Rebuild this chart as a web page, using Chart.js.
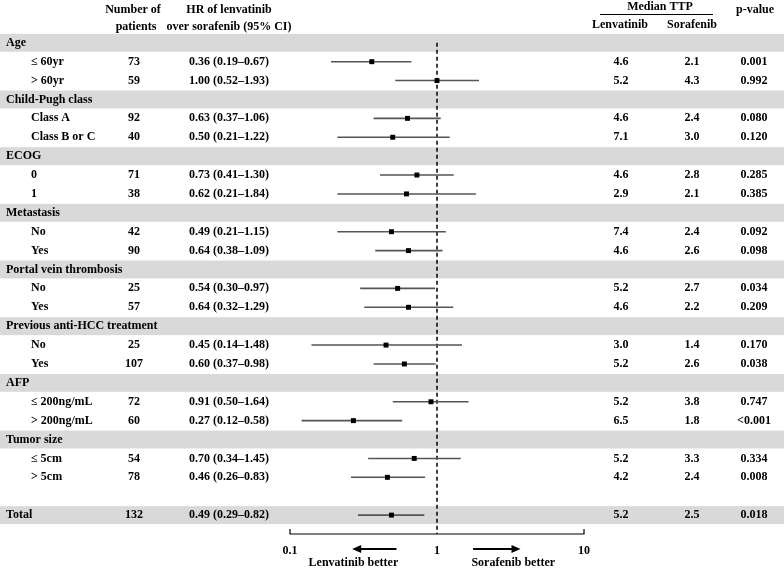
<!DOCTYPE html>
<html>
<head>
<meta charset="utf-8">
<script src="https://cdn.jsdelivr.net/npm/chart.js@4"></script>
<style>
  body { margin: 0; background: #fff; }
  #wrap { position: relative; width: 784px; height: 569px; }
</style>
</head>
<body>
<div id="wrap"><canvas id="forest"></canvas></div>
<script>
// filas de la tabla (esGrupo = fila de grupo con banda gris)
var etiquetas = ['Age', '\u2264 60yr', '> 60yr', 'Child-Pugh class', 'Class A', 'Class B or C',
  'ECOG', '0', '1', 'Metastasis', 'No', 'Yes', 'Portal vein thrombosis', 'No', 'Yes',
  'Previous anti-HCC treatment', 'No', 'Yes', 'AFP', '\u2264 200ng/mL', '> 200ng/mL',
  'Tumor size', '\u2264 5cm', '> 5cm', '', 'Total'];
var esGrupo = [1, 0, 0, 1, 0, 0, 1, 0, 0, 1, 0, 0, 1, 0, 0, 1, 0, 0, 1, 0, 0, 1, 0, 0, 0, 1];
var pacientes = [null, 73, 59, null, 92, 40, null, 71, 38, null, 42, 90, null, 25, 57, null, 25, 107, null, 72, 60, null, 54, 78, null, 132];
var hr = [null, 0.36, 1.00, null, 0.63, 0.50, null, 0.73, 0.62, null, 0.49, 0.64, null, 0.54, 0.64, null, 0.45, 0.60, null, 0.91, 0.27, null, 0.70, 0.46, null, 0.49];
var ciBajo = [null, 0.19, 0.52, null, 0.37, 0.21, null, 0.41, 0.21, null, 0.21, 0.38, null, 0.30, 0.32, null, 0.14, 0.37, null, 0.50, 0.12, null, 0.34, 0.26, null, 0.29];
var ciAlto = [null, 0.67, 1.93, null, 1.06, 1.22, null, 1.30, 1.84, null, 1.15, 1.09, null, 0.97, 1.29, null, 1.48, 0.98, null, 1.64, 0.58, null, 1.45, 0.83, null, 0.82];
var ttpLenva = [null, '4.6', '5.2', null, '4.6', '7.1', null, '4.6', '2.9', null, '7.4', '4.6', null, '5.2', '4.6', null, '3.0', '5.2', null, '5.2', '6.5', null, '5.2', '4.2', null, '5.2'];
var ttpSora = [null, '2.1', '4.3', null, '2.4', '3.0', null, '2.8', '2.1', null, '2.4', '2.6', null, '2.7', '2.2', null, '1.4', '2.6', null, '3.8', '1.8', null, '3.3', '2.4', null, '2.5'];
var pValor = [null, '0.001', '0.992', null, '0.080', '0.120', null, '0.285', '0.385', null, '0.092', '0.098', null, '0.034', '0.209', null, '0.170', '0.038', null, '0.747', '<0.001', null, '0.334', '0.008', null, '0.018'];
var ticksX = [0.1, 1, 10];

var fuente = 'bold 12px "Liberation Serif", "Times New Roman", serif';

function formatoHR(i) {
  return hr[i].toFixed(2) + ' (' + ciBajo[i].toFixed(2) + '\u2013' + ciAlto[i].toFixed(2) + ')';
}

// puntos y lineas de IC
var puntos = [];
var lineas = [];
for (var i = 0; i < etiquetas.length; i++) {
  if (hr[i] === null) continue;
  puntos.push({ x: hr[i], y: i });
  lineas.push({ x: ciBajo[i], y: i });
  lineas.push({ x: ciAlto[i], y: i });
  lineas.push({ x: null, y: null });
}

var pluginTabla = {
  id: 'tabla',
  beforeDatasetsDraw: function (chart) {
    var ctx = chart.ctx;
    var ys = chart.scales.y;
    var xs = chart.scales.x;
    var h = ys.getPixelForValue(1) - ys.getPixelForValue(0);
    ctx.save();
    // bandas grises
    ctx.fillStyle = '#d9d9d9';
    for (var i = 0; i < etiquetas.length; i++) {
      if (!esGrupo[i]) continue;
      var y = ys.getPixelForValue(i);
      ctx.fillRect(0, y - h / 2 + 0.5, chart.width, h - 1);
    }
    // linea vertical discontinua en HR = 1
    var x1 = xs.getPixelForValue(1);
    ctx.strokeStyle = '#000';
    ctx.lineWidth = 1.5;
    ctx.setLineDash([4, 3]);
    ctx.beginPath();
    ctx.moveTo(x1, ys.getPixelForValue(0));
    ctx.lineTo(x1, chart.chartArea.bottom);
    ctx.stroke();
    ctx.restore();
  },
  afterDraw: function (chart) {
    var ctx = chart.ctx;
    var ys = chart.scales.y;
    var xs = chart.scales.x;
    var abajo = chart.chartArea.bottom;
    ctx.save();
    ctx.fillStyle = '#000';
    ctx.font = fuente;
    ctx.textBaseline = 'middle';

    // cabecera
    ctx.textAlign = 'center';
    ctx.fillText('Number of', 133, 10);
    ctx.fillText('patients', 136, 27);
    ctx.fillText('HR of lenvatinib', 229, 10);
    ctx.fillText('over sorafenib (95% CI)', 229, 27);
    ctx.fillText('Median TTP', 660, 7);
    ctx.fillText('Lenvatinib', 620, 25);
    ctx.fillText('Sorafenib', 692, 25);
    ctx.fillText('p-value', 755, 10);
    ctx.strokeStyle = '#000';
    ctx.lineWidth = 1;
    ctx.beginPath();
    ctx.moveTo(600, 14.5);
    ctx.lineTo(713, 14.5);
    ctx.stroke();

    // filas
    for (var i = 0; i < etiquetas.length; i++) {
      var y = ys.getPixelForValue(i);
      ctx.textAlign = 'left';
      ctx.fillText(etiquetas[i], esGrupo[i] ? 6 : 31, y);
      if (pacientes[i] === null) continue;
      ctx.textAlign = 'center';
      ctx.fillText(String(pacientes[i]), 134, y);
      ctx.fillText(formatoHR(i), 229, y);
      ctx.fillText(ttpLenva[i], 621, y);
      ctx.fillText(ttpSora[i], 692, y);
      ctx.fillText(pValor[i], 754, y);
    }

    // eje con corchete
    var xa = xs.getPixelForValue(ticksX[0]);
    var xb = xs.getPixelForValue(ticksX[ticksX.length - 1]);
    ctx.lineWidth = 1.2;
    ctx.beginPath();
    ctx.moveTo(xa, abajo - 5);
    ctx.lineTo(xa, abajo);
    ctx.lineTo(xb, abajo);
    ctx.lineTo(xb, abajo - 5);
    ctx.stroke();

    // flechas
    var yf = abajo + 15;
    function flecha(desde, hasta) {
      var p0 = xs.getPixelForValue(desde);
      var p1 = xs.getPixelForValue(hasta);
      var d = p1 > p0 ? 1 : -1;
      ctx.lineWidth = 2;
      ctx.beginPath();
      ctx.moveTo(p0, yf);
      ctx.lineTo(p1 - d * 6, yf);
      ctx.stroke();
      ctx.beginPath();
      ctx.moveTo(p1, yf);
      ctx.lineTo(p1 - d * 9, yf - 4);
      ctx.lineTo(p1 - d * 9, yf + 4);
      ctx.closePath();
      ctx.fill();
    }
    flecha(0.53, 0.265);
    flecha(1.76, 3.7);
    ctx.textAlign = 'center';
    ctx.fillText('Lenvatinib better', xs.getPixelForValue(0.27), abajo + 29);
    ctx.fillText('Sorafenib better', xs.getPixelForValue(3.3), abajo + 29);
    ctx.restore();
  }
};

new Chart(document.getElementById('forest').getContext('2d'), {
  type: 'scatter',
  data: {
    datasets: [{
      type: 'line',
      label: 'IC 95%',
      data: lineas,
      borderColor: '#555',
      borderWidth: 1.6,
      pointRadius: 0,
      spanGaps: false,
      order: 2
    }, {
      label: 'HR',
      data: puntos,
      pointStyle: 'rect',
      pointRadius: 3.5,
      backgroundColor: '#000',
      borderColor: '#000',
      borderWidth: 0,
      order: 1
    }]
  },
  plugins: [pluginTabla],
  options: {
    responsive: true,
    maintainAspectRatio: false,
    animation: false,
    layout: { padding: { left: 290, right: 200, top: 5, bottom: 5 } },
    plugins: { legend: { display: false }, tooltip: { enabled: false } },
    scales: {
      x: {
        type: 'logarithmic',
        min: 0.1,
        max: 10,
        afterBuildTicks: function (scale) {
          scale.ticks = ticksX.map(function (v) { return { value: v }; });
        },
        afterFit: function (scale) { scale.height = 30; },
        grid: { display: false },
        border: { display: false },
        ticks: {
          color: '#000',
          font: { family: '"Liberation Serif", serif', size: 12, weight: 'bold' },
          padding: 2,
          maxRotation: 0,
          callback: function (v) { return String(v); }
        }
      },
      y: {
        type: 'linear',
        reverse: true,
        min: -2,
        max: 26,
        display: false
      }
    }
  }
});
</script>
</body>
</html>
